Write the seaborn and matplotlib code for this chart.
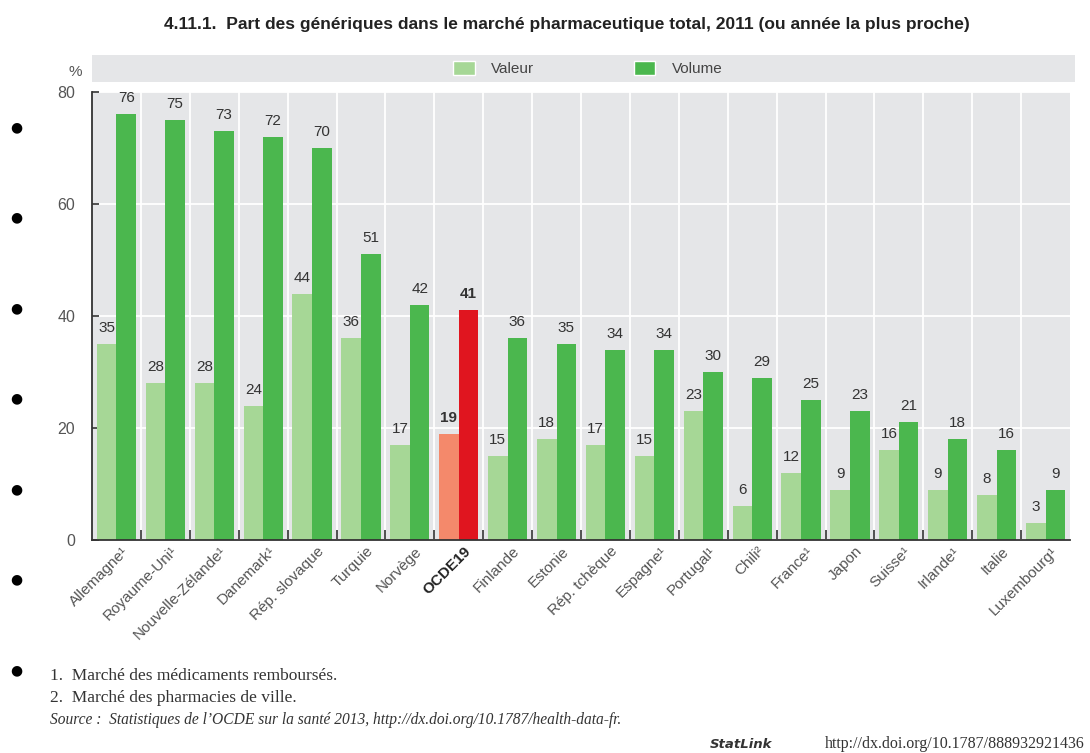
import numpy as np
import pandas as pd
import matplotlib
matplotlib.use("Agg")
import matplotlib.pyplot as plt
from matplotlib.patches import Rectangle
from matplotlib.ticker import FixedLocator
import matplotlib.transforms as mtransforms
import seaborn as sns

# ---- data ----
pays = ["Allemagne¹", "Royaume-Uni¹", "Nouvelle-Zélande¹", "Danemark¹", "Rép. slovaque",
        "Turquie", "Norvège", "OCDE19", "Finlande", "Estonie", "Rép. tchèque", "Espagne¹",
        "Portugal¹", "Chili²", "France¹", "Japon", "Suisse¹", "Irlande¹", "Italie", "Luxembourg¹"]
valeur = [35, 28, 28, 24, 44, 36, 17, 19, 15, 18, 17, 15, 23, 6, 12, 9, 16, 9, 8, 3]
volume = [76, 75, 73, 72, 70, 51, 42, 41, 36, 35, 34, 34, 30, 29, 25, 23, 21, 18, 16, 9]
series = ["Valeur", "Volume"]
yticks = [0, 20, 40, 60, 80]

title = "4.11.1.  Part des génériques dans le marché pharmaceutique total, 2011 (ou année la plus proche)"
notes = ["1.  Marché des médicaments remboursés.",
         "2.  Marché des pharmacies de ville."]
source = "Source :  Statistiques de l’OCDE sur la santé 2013, http://dx.doi.org/10.1787/health-data-fr."
statlink = "http://dx.doi.org/10.1787/888932921436"

df = pd.DataFrame({
    "Pays": pays * 2,
    "Série": [series[0]] * len(pays) + [series[1]] * len(pays),
    "Part": valeur + volume,
})

c_val, c_vol = "#a6d796", "#4bb74e"
c_val_oc, c_vol_oc = "#f4896b", "#e0151f"
bg = "#e5e6e8"
sans = ["Liberation Sans", "DejaVu Sans"]
serif = ["Liberation Serif", "DejaVu Serif"]

sns.set_theme(style="white")
plt.rcParams["font.family"] = sans

fig = plt.figure(figsize=(10.9, 7.53), dpi=100)
ax = fig.add_axes([92/1090, 1-540/753, 978/1090, 448/753])
ax.set_facecolor(bg)

sns.barplot(data=df, x="Pays", y="Part", hue="Série", order=pays, hue_order=series,
            palette=[c_val, c_vol], width=0.8, saturation=1, ax=ax, legend=False,
            linewidth=0, zorder=3)

oc = pays.index("OCDE19")
ax.containers[0][oc].set_facecolor(c_val_oc)
ax.containers[1][oc].set_facecolor(c_vol_oc)

for ci, cont in enumerate(ax.containers):
    for i, bar in enumerate(cont):
        h = bar.get_height()
        ax.text(bar.get_x() + bar.get_width()/2, h + 1.6, f"{h:.0f}",
                ha="center", va="bottom", fontsize=11, color="#333333",
                fontweight="bold" if i == oc else "normal", zorder=4)

ax.set_xlim(-0.5, len(pays) - 0.5)
ax.set_ylim(0, 80)
ax.set_xlabel("")
ax.set_ylabel("")

ax.yaxis.set_major_locator(FixedLocator(yticks))
ax.grid(axis="y", color="white", linewidth=1.3, zorder=1)
ax.xaxis.set_minor_locator(FixedLocator(np.arange(0.5, len(pays) - 0.5, 1)))
ax.grid(axis="x", which="minor", color="white", linewidth=1.3, zorder=1)
ax.grid(axis="x", which="major", visible=False)
ax.set_axisbelow(True)

for s in ["top", "right"]:
    ax.spines[s].set_visible(False)
for s in ["left", "bottom"]:
    ax.spines[s].set_color("#333333")
    ax.spines[s].set_linewidth(1.3)
    ax.spines[s].set_zorder(5)

ax.tick_params(axis="y", direction="in", length=5, width=1.2, color="#333333",
               labelsize=11.5, labelcolor="#555555", pad=12, left=True)
ax.tick_params(axis="x", which="major", length=0, pad=3)
ax.tick_params(axis="x", which="minor", direction="in", length=7, width=1.2,
               color="#333333", bottom=True)

ax.set_xticks(range(len(pays)))
ax.set_xticklabels(pays, rotation=45, ha="right", rotation_mode="anchor",
                   fontsize=11, color="#555555")
shift = mtransforms.ScaledTranslation(5/100, 0, fig.dpi_scale_trans)
for i, lab in enumerate(ax.get_xticklabels()):
    if i == oc:
        lab.set_fontweight("bold")
        lab.set_color("#222222")
    lab.set_transform(lab.get_transform() + shift)

# legend band
ax.add_patch(Rectangle((0, 1 + 10/448), 1.005, 27/448, transform=ax.transAxes,
                       facecolor=bg, edgecolor="none", clip_on=False, zorder=0))
handles = [Rectangle((0, 0), 1, 1, facecolor=c_val), Rectangle((0, 0), 1, 1, facecolor=c_vol)]
ax.legend(handles, series, loc="center", bbox_to_anchor=(496/978, 1 + 23.5/448),
          ncol=2, frameon=False, fontsize=11, handlelength=1.4, handleheight=1.0,
          columnspacing=6.5, handletextpad=1.1, labelcolor="#444444")

fig.text(75/1090, 1-72/753, "%", ha="center", va="center", fontsize=11, color="#555555")

fig.text(567/1090, 1-25/753, title, ha="center", va="center", fontsize=12.5,
         fontweight="bold", color="#222222")

# slide bullets
for yb in [127, 217, 308, 398, 489, 579, 670]:
    fig.text(16/1090, 1-yb/753, "●", ha="center", va="center", fontsize=10, color="black",
             family=["DejaVu Sans"])

fig.text(50/1090, 1-676/753, notes[0], ha="left", va="center", fontsize=12.5,
         color="#333333", family=serif)
fig.text(50/1090, 1-698/753, notes[1], ha="left", va="center", fontsize=12.5,
         color="#333333", family=serif)
fig.text(50/1090, 1-720/753, source, ha="left", va="center", fontsize=11.2,
         color="#333333", family=serif, style="italic")
fig.text(1085/1090, 1-744/753, statlink, ha="right", va="center", fontsize=11.5,
         color="#333333", family=serif)
fig.text(710/1090, 1-744/753, "StatLink", ha="left", va="center", fontsize=9.5,
         color="#333333", fontweight="bold", style="italic", family=["DejaVu Sans"])

fig.savefig("out.png", dpi=100, facecolor="white")
